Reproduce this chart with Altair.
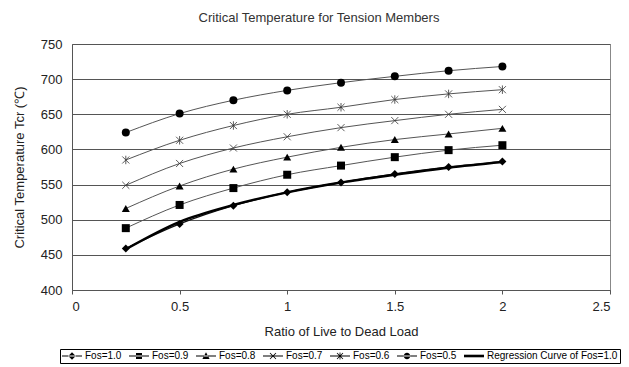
import math
import altair as alt
import pandas as pd

# Ratio of live to dead load (x) and critical temperatures (°C) per factor of safety
ratio = [0.25, 0.5, 0.75, 1.0, 1.25, 1.5, 1.75, 2.0]
fos_10 = [459, 494, 520, 539, 553, 565, 575, 583]
fos_09 = [488, 521, 545, 564, 577, 589, 599, 606]
fos_08 = [516, 548, 572, 589, 603, 614, 622, 630]
fos_07 = [549, 580, 602, 618, 631, 641, 650, 657]
fos_06 = [585, 613, 634, 650, 660, 671, 679, 685]
fos_05 = [624, 651, 670, 684, 695, 704, 712, 718]
regression_fos_10 = [458, 497, 521, 539, 553, 564, 574, 582]

series_names = ["Fos=1.0", "Fos=0.9", "Fos=0.8", "Fos=0.7", "Fos=0.6", "Fos=0.5"]
series_values = [fos_10, fos_09, fos_08, fos_07, fos_06, fos_05]
reg_name = "Regression Curve of Fos=1.0"
legend_names = series_names + [reg_name]

rows = []
for name, vals in zip(series_names, series_values):
    for x, y in zip(ratio, vals):
        rows.append({"ratio": x, "temp": y, "series": name})
df = pd.DataFrame(rows)
reg_df = pd.DataFrame({"ratio": ratio, "temp": regression_fos_10, "series": reg_name})

FONT = "Liberation Sans"
x_scale = alt.Scale(domain=[0, 2.5], nice=False, zero=False)
y_scale = alt.Scale(domain=[400, 750], nice=False, zero=False)

x_enc = alt.X("ratio:Q", scale=x_scale,
              axis=alt.Axis(title="Ratio of Live to Dead Load", values=[0, 0.5, 1, 1.5, 2, 2.5],
                            format="~g", grid=False, tickSize=4, tickColor="#555",
                            domainColor="#555", labelPadding=6, titlePadding=12))
y_enc = alt.Y("temp:Q", scale=y_scale,
              axis=alt.Axis(title="Critical Temperature Tcr (℃)", values=list(range(400, 751, 50)),
                            grid=True, gridColor="#555", gridWidth=1, ticks=False,
                            domainColor="#555", labelPadding=10, titlePadding=14))

base = alt.Chart(df)

# thin connecting lines
thin_lines = base.transform_filter(alt.datum.series != "Fos=1.0").mark_line(
    interpolate="monotone", color="#555", strokeWidth=1
).encode(x=x_enc, y=y_enc, detail="series:N")

fos10_line = base.transform_filter(alt.datum.series == "Fos=1.0").mark_line(
    interpolate="monotone", color="#111", strokeWidth=1.4
).encode(x=x_enc, y=y_enc)

reg_line = alt.Chart(reg_df).mark_line(
    interpolate="monotone", color="black", strokeWidth=2.4
).encode(x=x_enc, y=y_enc)

filled_names = ["Fos=1.0", "Fos=0.9", "Fos=0.8", "Fos=0.5"]
filled_pts = base.transform_filter(
    alt.FieldOneOfPredicate(field="series", oneOf=filled_names)
).mark_point(filled=True, color="black", size=64, opacity=1).encode(
    x=x_enc, y=y_enc,
    shape=alt.Shape("series:N", legend=None,
                    scale=alt.Scale(domain=filled_names,
                                    range=["diamond", "square", "triangle-up", "circle"])),
)

stroke_names = ["Fos=0.7", "Fos=0.6"]
stroke_pts = base.transform_filter(
    alt.FieldOneOfPredicate(field="series", oneOf=stroke_names)
).mark_point(filled=False, color="#333", size=50, strokeWidth=0.8, opacity=1).encode(
    x=x_enc, y=y_enc,
    shape=alt.Shape("series:N", legend=None,
                    scale=alt.Scale(domain=stroke_names,
                                    range=["M-1,-1L1,1M-1,1L1,-1",
                                           "M-1,-1L1,1M-1,1L1,-1M0,-1.2V1.2"])),
)


# legend glyphs, drawn as filled outlines in symbol units (1 unit = 5 px)
def bar(x0, y0, x1, y1, h):
    """Closed polygon for a straight stroke of half-thickness h."""
    dx, dy = x1 - x0, y1 - y0
    n = math.hypot(dx, dy)
    px, py = -dy / n * h, dx / n * h
    pts = [(x0 + px, y0 + py), (x1 + px, y1 + py), (x1 - px, y1 - py), (x0 - px, y0 - py)]
    return "M" + "L".join(f"{a:.3f},{b:.3f}" for a, b in pts) + "Z"


cx = 1.0
seg = bar(-1, 0, 3, 0, 0.11)
x_arms = bar(cx - 0.6, -0.6, cx + 0.6, 0.6, 0.08) + bar(cx - 0.6, 0.6, cx + 0.6, -0.6, 0.08)
legend_symbols = [
    seg + f"M{cx - 0.75},0L{cx},-0.75L{cx + 0.75},0L{cx},0.75Z",
    seg + f"M{cx - 0.6},-0.6H{cx + 0.6}V0.6H{cx - 0.6}Z",
    seg + f"M{cx},-0.75L{cx + 0.72},0.6H{cx - 0.72}Z",
    seg + x_arms,
    seg + x_arms + bar(cx, -0.7, cx, 0.7, 0.08),
    seg + f"M{cx + 0.65},0A0.65,0.65 0 1,1 {cx - 0.65},0A0.65,0.65 0 1,1 {cx + 0.65},0Z",
    bar(-1, 0, 3, 0, 0.26),
]
legend_layer = alt.Chart(reg_df).transform_filter("datum.ratio < 0").mark_point(
    filled=True, color="black", size=100, opacity=1
).encode(
    x=x_enc, y=y_enc,
    shape=alt.Shape("series:N", title=None,
                    scale=alt.Scale(domain=legend_names, range=legend_symbols),
                    legend=alt.Legend(orient="none", legendX=-12, legendY=305,
                                      direction="horizontal", columns=7,
                                      strokeColor="black", padding=2,
                                      symbolSize=100, symbolStrokeWidth=0, symbolOpacity=1,
                                      labelFont="Liberation Sans Narrow, Arial Narrow, Liberation Sans",
                                      labelFontSize=10,
                                      labelColor="black", labelOffset=13, columnPadding=7,
                                      labelLimit=300)),
)

chart = alt.layer(
    thin_lines, fos10_line, reg_line, filled_pts, stroke_pts, legend_layer
).resolve_scale(shape="independent").resolve_legend(shape="independent").properties(
    width=538, height=246,
    title=alt.TitleParams("Critical Temperature for Tension Members", fontSize=13,
                          font=FONT, fontWeight="normal", color="#333", offset=13, dx=-22),
    autosize=alt.AutoSizeParams(type="none"),
    padding={"left": 72, "top": 44, "right": 19, "bottom": 77},
).configure_view(stroke="#888", strokeWidth=1).configure_axis(
    labelFont=FONT, labelFontSize=13, labelColor="#222",
    titleFont=FONT, titleFontSize=13, titleColor="#222", titleFontWeight="normal",
)

chart.save("out.html", embed_options={"renderer": "svg", "actions": False})
